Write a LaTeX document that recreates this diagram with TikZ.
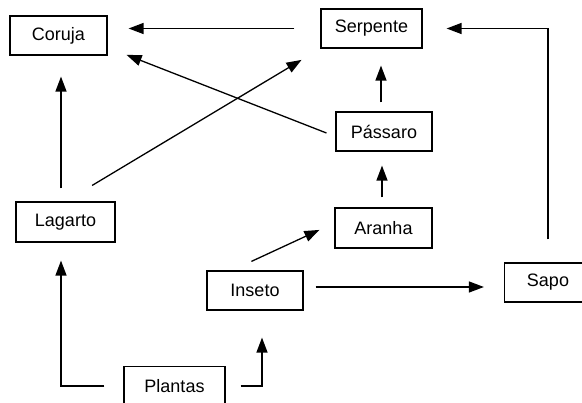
\documentclass[tikz,border=0pt]{standalone}
\usepackage{fontspec}
\setmainfont{Liberation Sans}
\usepackage{tikz}
\usetikzlibrary{arrows.meta}

\begin{document}
\begin{tikzpicture}[x=1pt,y=-1pt,
	box/.style={draw,line width=1.2pt,minimum width=97pt,minimum height=39pt,
		inner sep=0pt,font=\fontsize{18}{20}\selectfont},
	arr/.style={-{Triangle[length=15pt,width=11pt]},line width=1.3pt}]
	\useasboundingbox (0,0) rectangle (582,403);
	\node[box](coruja) at (58.5,35.5){Coruja};
	\node[box,minimum width=101pt](serpente) at (371.5,28.5){Serpente};
	\node[box,minimum width=96pt](passaro) at (384,131.5){Pássaro};
	\node[box,minimum height=40pt](aranha) at (383.5,228){Aranha};
	\node[box,minimum width=87pt](sapo) at (548,282.5){Sapo};
	\node[box,minimum width=99pt,minimum height=40pt](lagarto) at (65.5,222){Lagarto};
	\node[box,minimum width=96pt](inseto) at (255,290.5){Inseto};
	\node[box,minimum width=101pt](plantas) at (174.5,386){Plantas};
	\draw[arr,shorten <=26pt,shorten >=21pt](serpente.west)--(serpente.west -| coruja.east);
	\draw[arr,shorten <=9.6pt,shorten >=20.4pt]([yshift=-5pt]passaro.west)--([yshift=-12pt]coruja.east);
	\draw[arr,shorten <=31pt,shorten >=22pt](lagarto.north)--(serpente.south west);
	\draw[arr,shorten <=13pt,shorten >=21pt]([xshift=-4.5pt]lagarto.north)--([xshift=-4.5pt]lagarto.north |- coruja.south);
	\draw[arr,shorten <=19pt,shorten >=18pt](plantas.west)-|([xshift=-4.5pt]lagarto.south);
	\draw[arr,shorten <=9pt,shorten >=17pt]([xshift=-3pt]passaro.north)--([xshift=-3pt]passaro.north |- serpente.south);
	\draw[arr,shorten <=10pt,shorten >=14pt]([xshift=-1.5pt]aranha.north)--([xshift=-1.5pt]aranha.north |- passaro.south);
	\draw[arr,shorten <=23pt,shorten >=24pt](sapo.north)|-(serpente.east);
	\draw[arr,shorten <=21.4pt,shorten >=16.5pt]([xshift=-23pt]inseto.north)--([yshift=5pt]aranha.west);
	\draw[arr,shorten <=12pt,shorten >=20pt]([yshift=3.5pt]inseto.east)--([yshift=3.5pt]inseto.east -| sapo.west);
	\draw[arr,shorten <=15pt,shorten >=27pt](plantas.east)-|([xshift=7pt]inseto.south);
\end{tikzpicture}
\end{document}
